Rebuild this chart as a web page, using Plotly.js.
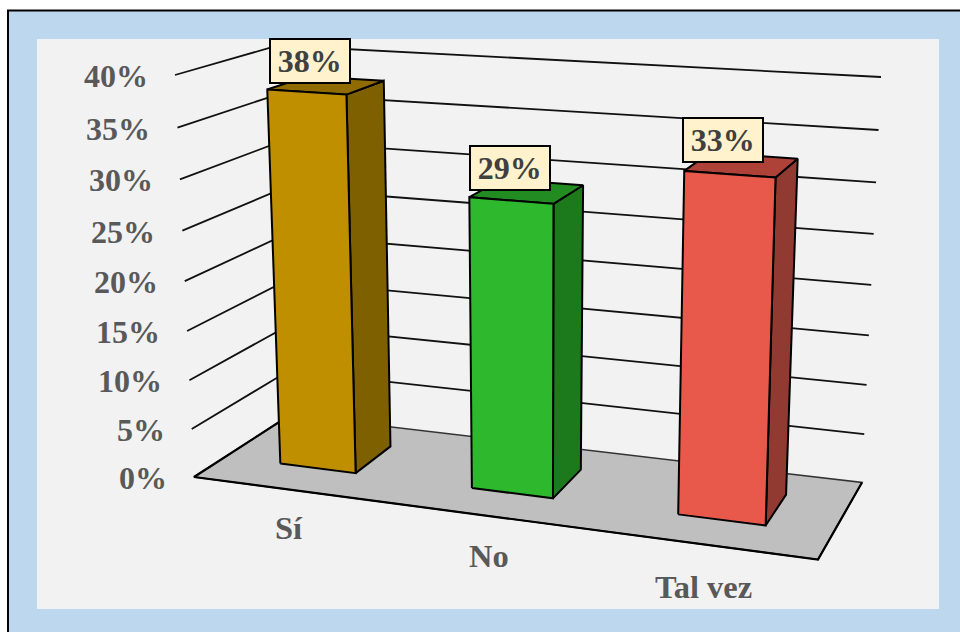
<!DOCTYPE html>
<html><head><meta charset="utf-8">
<script src="https://cdn.plot.ly/plotly-3.0.1.min.js"></script>
<style>html,body{margin:0;padding:0;background:#fff;overflow:hidden}</style>
</head><body><div id="chart" style="width:960px;height:632px"></div>
<script>
// ---- data ----
const categories = ['Sí', 'No', 'Tal vez'];
const values = [38, 29, 33];
const valueLabels = ['38%', '29%', '33%'];
const tickValues = [0, 5, 10, 15, 20, 25, 30, 35, 40];
const tickLabels = ['0%', '5%', '10%', '15%', '20%', '25%', '30%', '35%', '40%'];
const axisMax = 40;
const frontColors = ['#BF8F00', '#2EB82E', '#E8594C'];
const sideColors = ['#7F6000', '#1C7A1C', '#903A32'];
const topColors = ['#8F6B00', '#228B22', '#AE4239'];
const labelNudge = [3, -1, -6.4];
const labelLift = [30.8, 32, 34.3];

// ---- projection of the 3-D box (category t, depth w, value fraction v) on the page ----
const box = {
  flb: [194, 477], frb: [818, 559.5], blb: [290, 415], brb: [862, 482.5],
  flt: [175, 75], frt: [832, 117.5], blt: [278, 45.5], brt: [881, 77]
};
const persp = (s, c) => c * s / (1 + (c - 1) * s);
function project(t, w, val) {
  const u = persp(t, 0.894), v = persp(val / axisMax, 0.95);
  const out = [];
  for (let i = 0; i < 2; i++) {
    const bottom = (1 - w) * ((1 - u) * box.flb[i] + u * box.frb[i]) + w * ((1 - u) * box.blb[i] + u * box.brb[i]);
    const top = (1 - w) * ((1 - u) * box.flt[i] + u * box.frt[i]) + w * ((1 - u) * box.blt[i] + u * box.brt[i]);
    out.push((1 - v) * bottom + v * top);
  }
  return out;
}
function poly(pts, fill, lw, col) {
  const closed = fill ? pts.concat([pts[0]]) : pts;
  const tr = {
    type: 'scatter', mode: 'lines', x: closed.map(p => p[0]), y: closed.map(p => p[1]),
    line: {color: col || '#000', width: lw}, hoverinfo: 'skip', showlegend: false
  };
  if (fill) { tr.fill = 'toself'; tr.fillcolor = fill; }
  return tr;
}

const traces = [];
// walls' gridlines
tickValues.slice(1).forEach(tv => {
  traces.push(poly([project(0, 0, tv), project(0, 1, tv), project(1, 1, tv)], null, 1.8, '#111'));
});
// floor
traces.push(poly([project(0, 0, 0), project(1, 0, 0), project(1, 1, 0), project(0, 1, 0)], '#BFBFBF', 1.6, '#333'));
traces.push(poly([project(1, 1, 0), project(1, 0, 0), project(0, 0, 0), project(0, 1, 0)], null, 2.2, '#000'));

// bars
const halfWidth = 0.067, wFront = 0.33, wBack = 0.74;
values.forEach((val, i) => {
  const tc = (i + 0.5) / categories.length, a = tc - halfWidth, b = tc + halfWidth;
  traces.push(poly([project(b, wFront, 0), project(b, wBack, 0), project(b, wBack, val), project(b, wFront, val)], sideColors[i], 2));
  traces.push(poly([project(a, wFront, val), project(b, wFront, val), project(b, wBack, val), project(a, wBack, val)], topColors[i], 2));
  traces.push(poly([project(a, wFront, 0), project(b, wFront, 0), project(b, wFront, val), project(a, wFront, val)], frontColors[i], 2));
});

const annotations = [];
const serif = 'Liberation Serif';
tickValues.forEach((tv, i) => {
  const p = project(0, 0, tv);
  annotations.push({x: p[0], y: p[1], xref: 'x', yref: 'y', text: '<b>' + tickLabels[i] + '</b>', showarrow: false,
    xanchor: 'right', yanchor: 'middle', xshift: -25, yshift: -1,
    font: {family: serif, size: 32, color: '#595959'}});
});
categories.forEach((c, i) => {
  const t = (i + 0.5) / categories.length, p = project(t, 0, 0);
  annotations.push({x: p[0], y: p[1], xref: 'x', yref: 'y', text: '<b>' + c + '</b>', showarrow: false,
    xanchor: 'center', yanchor: 'middle', yshift: -(37 + 7 * t),
    font: {family: serif, size: 32.5, color: '#595959'}});
});
values.forEach((val, i) => {
  const t = (i + 0.5) / categories.length, p = project(t, wFront, val);
  annotations.push({x: p[0], y: p[1], xref: 'x', yref: 'y', text: '<b>' + valueLabels[i] + '</b>', showarrow: false,
    xanchor: 'center', yanchor: 'middle', xshift: labelNudge[i], yshift: labelLift[i],
    width: 77.5, height: 42, bgcolor: '#FFF2CC', bordercolor: '#000', borderwidth: 2, borderpad: 0,
    font: {family: serif, size: 32, color: '#404040'}});
});

const layout = {
  width: 960, height: 632, margin: {l: 0, r: 0, t: 0, b: 0},
  paper_bgcolor: '#FFFFFF', plot_bgcolor: '#FFFFFF',
  xaxis: {range: [0, 960], visible: false, fixedrange: true},
  yaxis: {range: [632, 0], visible: false, fixedrange: true},
  shapes: [
    {type: 'rect', xref: 'x', yref: 'y', x0: 8, y0: 10.5, x1: 970, y1: 645, fillcolor: '#BDD7EE', line: {color: '#000', width: 2}, layer: 'below'},
    {type: 'rect', xref: 'x', yref: 'y', x0: 37, y0: 39, x1: 939, y1: 609, fillcolor: '#F2F2F2', line: {width: 0}, layer: 'below'}
  ],
  annotations: annotations
};
Plotly.newPlot('chart', traces, layout, {displayModeBar: false, staticPlot: true});
</script></body></html>
